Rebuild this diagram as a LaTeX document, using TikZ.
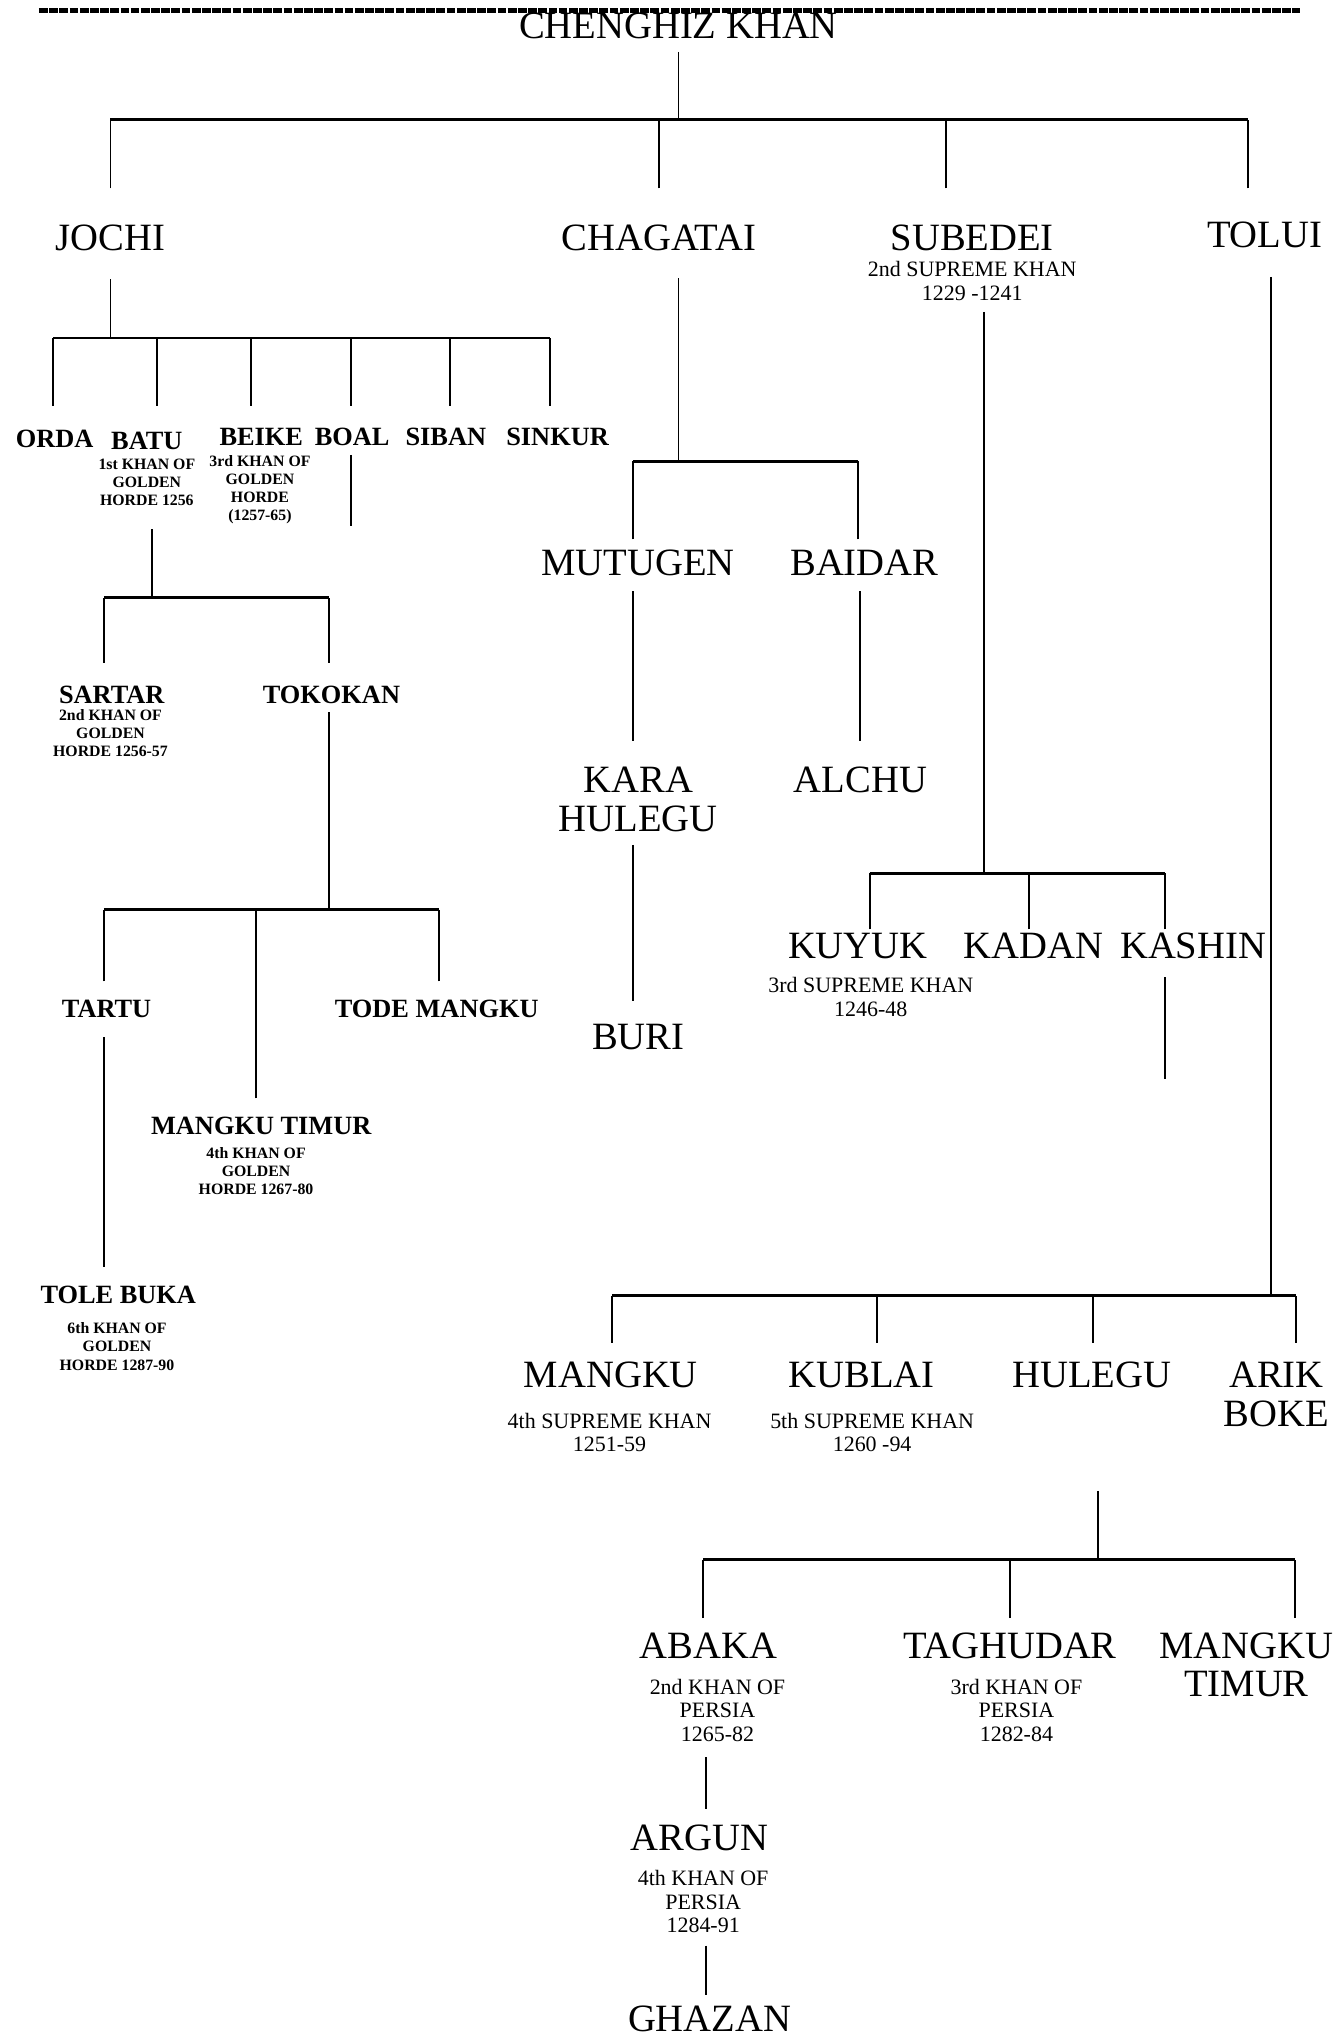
\documentclass[tikz,border=0pt]{standalone}
\usepackage{fontspec}
\setmainfont{Liberation Serif}
\begin{document}
\begin{tikzpicture}[x=0.026cm,y=-0.026cm,line width=1.1pt]
   \tikzset{big/.style={font=\fontsize{22}{22}\selectfont, align=center, inner sep=0pt},
            horde/.style={font=\bfseries\fontsize{15}{16}\selectfont, inner sep=0pt},
            reign/.style={font=\fontsize{12.5}{13.4}\selectfont, align=center, inner sep=0pt},
            small/.style={font=\bfseries\fontsize{9}{10.3}\selectfont, align=center, inner sep=0pt},
            bar/.style={line width=1.6pt}};
   \useasboundingbox (0,0) rectangle (1030,1568);
   \draw[line width=3pt, dash pattern=on 5pt off 0.8pt] (30,8) -- (1000,8);

   % names
   \node[big] (ck) at (522,20) {CHENGHIZ KHAN};
   \node[big] (jochi) at (85,183) {JOCHI};
   \node[big] (chagatai) at (507,183) {CHAGATAI};
   \node[big] (subedei) at (748,183) {SUBEDEI};
   \node[reign] (subedei-t) at (748,216) {2nd SUPREME KHAN\\1229 -1241};
   \node[big] (tolui) at (973,181) {TOLUI};

   \node[horde] (orda) at (42,338) {ORDA};
   \node[horde] (batu) at (113,339) {BATU};
   \node[small] (batu-t) at (113,371) {1st KHAN OF\\GOLDEN\\HORDE 1256};
   \node[horde] (beike) at (201,336) {BEIKE};
   \node[small] (beike-t) at (200,377) {3rd KHAN OF\\GOLDEN\\HORDE\\(1257-65)};
   \node[horde] (boal) at (271,336) {BOAL};
   \node[horde] (siban) at (343,336) {SIBAN};
   \node[horde] (sinkur) at (429,336) {SINKUR};
   \node[horde] (sartar) at (86,535) {SARTAR};
   \node[small] (sartar-t) at (85,564) {2nd KHAN OF\\GOLDEN\\HORDE 1256-57};
   \node[horde] (tokokan) at (255,535) {TOKOKAN};
   \node[horde] (tartu) at (82,776) {TARTU};
   \node[horde] (tode) at (336,776) {TODE MANGKU};
   \node[horde] (mtimur) at (201,866) {MANGKU TIMUR};
   \node[small] (mtimur-t) at (197,901) {4th KHAN OF\\GOLDEN\\HORDE 1267-80};
   \node[horde] (tole) at (91,996) {TOLE BUKA};
   \node[small] (tole-t) at (90,1036) {6th KHAN OF\\GOLDEN\\HORDE 1287-90};

   \node[big] (mutugen) at (491,433) {MUTUGEN};
   \node[big] (baidar) at (665,433) {BAIDAR};
   \node[big] (kara) at (491,615) {KARA\\HULEGU};
   \node[big] (alchu) at (662,600) {ALCHU};
   \node[big] (buri) at (491,798) {BURI};

   \node[big] (kuyuk) at (660,728) {KUYUK};
   \node[reign] (kuyuk-t) at (670,767) {3rd SUPREME KHAN\\1246-48};
   \node[big] (kadan) at (795,728) {KADAN};
   \node[big] (kashin) at (918,728) {KASHIN};

   \node[big] (mangku) at (470,1058) {MANGKU};
   \node[reign] (mangku-t) at (469,1102) {4th SUPREME KHAN\\1251-59};
   \node[big] (kublai) at (663,1058) {KUBLAI};
   \node[reign] (kublai-t) at (671,1102) {5th SUPREME KHAN\\1260 -94};
   \node[big] (hulegu) at (840,1058) {HULEGU};
   \node[big] (arik) at (982,1073) {ARIK\\BOKE};
   \node[big] (abaka) at (545,1266) {ABAKA};
   \node[reign] (abaka-t) at (552,1316) {2nd KHAN OF\\PERSIA\\1265-82};
   \node[big] (taghudar) at (777,1266) {TAGHUDAR};
   \node[reign] (taghudar-t) at (782,1316) {3rd KHAN OF\\PERSIA\\1282-84};
   \node[big] (ptimur) at (959,1281) {MANGKU\\TIMUR};
   \node[big] (argun) at (538,1414) {ARGUN};
   \node[reign] (argun-t) at (541,1463) {4th KHAN OF\\PERSIA\\1284-91};
   \node[big] (ghazan) at (546,1553) {GHAZAN};

   % line ends
   \coordinate (ck-dn) at (522,40);   \coordinate (ck-bar) at (522,92);
   \coordinate (jochi-up) at (85,145);  \coordinate (chagatai-up) at (507,145);
   \coordinate (subedei-up) at (728,145); \coordinate (tolui-up) at (960,145);
   \coordinate (jochi-dn) at (85,215);  \coordinate (jochi-bar) at (85,260);
   \coordinate (orda-up) at (41,312);  \coordinate (batu-up) at (121,312);
   \coordinate (beike-up) at (193,312); \coordinate (boal-up) at (270,312);
   \coordinate (siban-up) at (346,312); \coordinate (sinkur-up) at (423,312);
   \coordinate (boal-dn) at (270,350);  \coordinate (boal-end) at (270,405);
   \coordinate (batu-dn) at (117,407);  \coordinate (batu-bar) at (117,460);
   \coordinate (sartar-up) at (80,510); \coordinate (tokokan-up) at (253,510);
   \coordinate (tokokan-dn) at (253,548); \coordinate (tokokan-bar) at (253,700);
   \coordinate (tartu-up) at (80,755);  \coordinate (mtimur-up) at (197,845);
   \coordinate (tode-up) at (338,755);
   \coordinate (tartu-dn) at (80,798);  \coordinate (tole-up) at (80,975);

   \coordinate (chagatai-dn) at (522,214); \coordinate (chagatai-bar) at (522,355);
   \coordinate (mutugen-up) at (487,415); \coordinate (baidar-up) at (660,415);
   \coordinate (mutugen-dn) at (487,455); \coordinate (kara-up) at (487,570);
   \coordinate (baidar-dn) at (662,455);  \coordinate (alchu-up) at (662,570);
   \coordinate (kara-dn) at (487,650);    \coordinate (buri-up) at (487,770);

   \coordinate (subedei-dn) at (757,240); \coordinate (subedei-bar) at (757,672);
   \coordinate (kuyuk-up) at (669,715); \coordinate (kadan-up) at (792,715);
   \coordinate (kashin-up) at (896,715);
   \coordinate (kashin-dn) at (896,752); \coordinate (kashin-end) at (896,830);

   \coordinate (tolui-dn) at (978,213); \coordinate (tolui-bar) at (978,997);
   \coordinate (mangku-up) at (471,1033); \coordinate (kublai-up) at (675,1033);
   \coordinate (hulegu-up) at (841,1033); \coordinate (arik-up) at (997,1033);
   \coordinate (hulegu-dn) at (845,1147); \coordinate (hulegu-bar) at (845,1200);
   \coordinate (abaka-up) at (541,1245); \coordinate (taghudar-up) at (777,1245);
   \coordinate (ptimur-up) at (996,1245);
   \coordinate (abaka-dn) at (543,1352); \coordinate (argun-up) at (543,1392);
   \coordinate (argun-dn) at (543,1497); \coordinate (ghazan-up) at (543,1535);

   % connectors
   \draw (ck-dn) -- (ck-bar);
   \draw[bar] (jochi-up |- ck-bar) -- (tolui-up |- ck-bar);
   \foreach \c in {jochi,chagatai,subedei,tolui} \draw (\c-up) -- (\c-up |- ck-bar);

   \draw (jochi-dn) -- (jochi-bar);
   \draw[bar] (orda-up |- jochi-bar) -- (sinkur-up |- jochi-bar);
   \foreach \c in {orda,batu,beike,boal,siban,sinkur} \draw (\c-up) -- (\c-up |- jochi-bar);
   \draw (boal-dn) -- (boal-end);
   \draw (batu-dn) -- (batu-bar);
   \draw[bar] (sartar-up |- batu-bar) -- (tokokan-up |- batu-bar);
   \foreach \c in {sartar,tokokan} \draw (\c-up) -- (\c-up |- batu-bar);
   \draw (tokokan-dn) -- (tokokan-bar);
   \draw[bar] (tartu-up |- tokokan-bar) -- (tode-up |- tokokan-bar);
   \foreach \c in {tartu,mtimur,tode} \draw (\c-up) -- (\c-up |- tokokan-bar);
   \draw (tartu-dn) -- (tole-up);

   \draw (chagatai-dn) -- (chagatai-bar);
   \draw[bar] (mutugen-up |- chagatai-bar) -- (baidar-up |- chagatai-bar);
   \foreach \c in {mutugen,baidar} \draw (\c-up) -- (\c-up |- chagatai-bar);
   \draw (mutugen-dn) -- (kara-up);
   \draw (baidar-dn) -- (alchu-up);
   \draw (kara-dn) -- (buri-up);

   \draw (subedei-dn) -- (subedei-bar);
   \draw[bar] (kuyuk-up |- subedei-bar) -- (kashin-up |- subedei-bar);
   \foreach \c in {kuyuk,kadan,kashin} \draw (\c-up) -- (\c-up |- subedei-bar);
   \draw (kashin-dn) -- (kashin-end);

   \draw (tolui-dn) -- (tolui-bar);
   \draw[bar] (mangku-up |- tolui-bar) -- (arik-up |- tolui-bar);
   \foreach \c in {mangku,kublai,hulegu,arik} \draw (\c-up) -- (\c-up |- tolui-bar);
   \draw (hulegu-dn) -- (hulegu-bar);
   \draw[bar] (abaka-up |- hulegu-bar) -- (ptimur-up |- hulegu-bar);
   \foreach \c in {abaka,taghudar,ptimur} \draw (\c-up) -- (\c-up |- hulegu-bar);
   \draw (abaka-dn) -- (argun-up);
   \draw (argun-dn) -- (ghazan-up);
\end{tikzpicture}
\end{document}
